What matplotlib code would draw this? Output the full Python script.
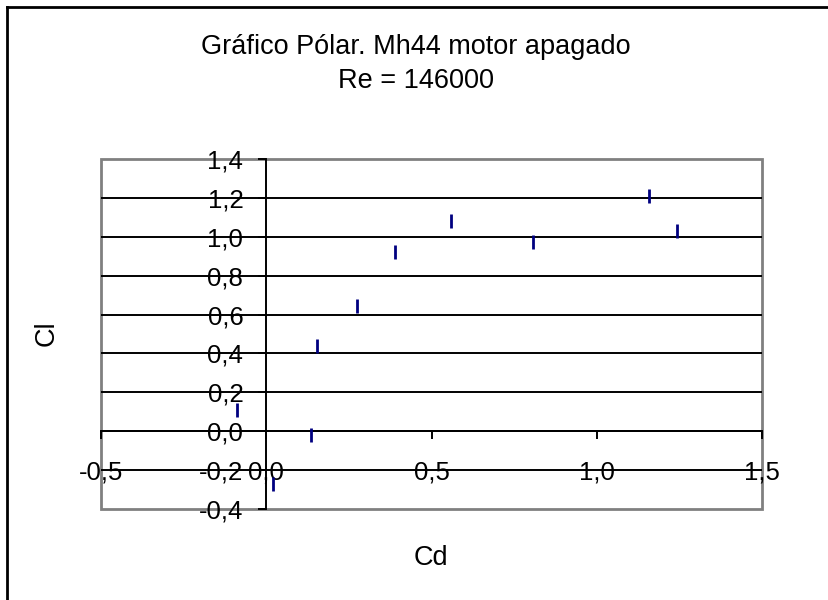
import matplotlib.pyplot as plt
from matplotlib.patches import Rectangle
from matplotlib.lines import Line2D

# datos
cd = [-0.09, 0.155, 0.274, 0.135, 0.019, 0.39, 0.558, 0.807, 1.158, 1.243]
cl = [0.11, 0.44, 0.645, -0.02, -0.27, 0.92, 1.08, 0.975, 1.21, 1.03]

x_ticks = [-0.5, 0.0, 0.5, 1.0, 1.5]
y_ticks = [-0.4, -0.2, 0.0, 0.2, 0.4, 0.6, 0.8, 1.0, 1.2, 1.4]

plt.rcParams['font.family'] = ['Liberation Sans', 'DejaVu Sans']

fig = plt.figure(figsize=(8.29, 6), dpi=100)
ax = fig.add_axes([101/829, 1 - 509/600, 661/829, 350/600])

ax.set_xlim(-0.5, 1.5)
ax.set_ylim(-0.4, 1.4)

# lineas de division horizontales
for y in y_ticks[1:-1]:
    ax.axhline(y, color='black', lw=1.4, zorder=1)

# ejes cruzando en cero
ax.spines['left'].set_position(('data', 0))
ax.spines['bottom'].set_position(('data', 0))
ax.spines['left'].set_color('black')
ax.spines['bottom'].set_color('black')
ax.spines['left'].set_linewidth(1.4)
ax.spines['bottom'].set_linewidth(1.4)
ax.spines['right'].set_visible(False)
ax.spines['top'].set_visible(False)

# marco gris del area de trazado
ax.add_patch(Rectangle((0, 0), 1, 1, transform=ax.transAxes, fill=False,
                       edgecolor='#808080', lw=2, zorder=0, clip_on=False))

ax.set_xticks(x_ticks)
ax.set_yticks(y_ticks)
ax.set_xticklabels([f'{v:.1f}'.replace('.', ',') for v in x_ticks])
ax.set_yticklabels([f'{v:.1f}'.replace('.', ',') for v in y_ticks])
ax.tick_params(axis='x', direction='out', length=6, width=1.4, pad=15, labelsize=18.5)
ax.tick_params(axis='y', direction='out', length=6, width=1.4, pad=10.5, labelsize=18.5)

ax.plot(cd, cl, linestyle='none', marker='|', markersize=10.5, mew=2, color='#000080', zorder=3)

fig.text(416/829, 1 - 54/600, 'Gráfico Pólar. Mh44 motor apagado', ha='center', va='baseline', fontsize=19.5)
fig.text(416/829, 1 - 88/600, 'Re = 146000', ha='center', va='baseline', fontsize=19.5)
fig.text(47/829, 1 - 333/600, 'Cl', rotation=90, ha='center', va='center', fontsize=19.5)
fig.text(431/829, 1 - 558/600, 'Cd', ha='center', va='center', fontsize=19.5)

# borde exterior del grafico
fig.add_artist(Line2D([7/829, 7/829], [0, 1 - 7/600], color='black', lw=2, transform=fig.transFigure))
fig.add_artist(Line2D([7/829, 1], [1 - 7/600, 1 - 7/600], color='black', lw=2, transform=fig.transFigure))

plt.savefig('out.png', dpi=100)
